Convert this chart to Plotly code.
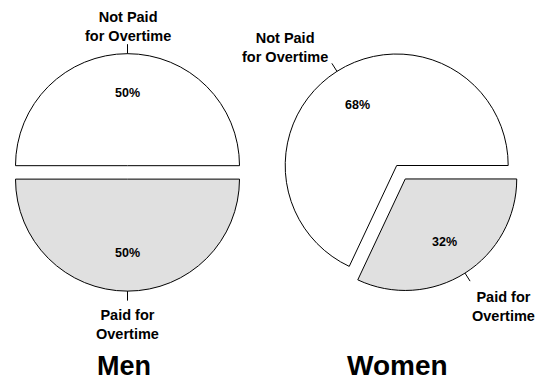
import math
import plotly.graph_objects as go

# ---- data ----
groups = ["Men", "Women"]
slice_labels = ["Not Paid<br>for Overtime", "Paid for<br>Overtime"]
men_values = [50, 50]
women_values = [68, 32]
men_pull = [0.06, 0.06]
women_pull = [0.0, 0.143]

# ---- geometry (pixels) ----
W, H = 540, 381
FONT = "Liberation Sans, Arial, sans-serif"
fills = ["#ffffff", "#e0e0e0"]

pies = [
    dict(name="Men", values=men_values, pull=men_pull, cx=127.5, cy=172.4, r=112.0,
         label_pos=[(127.5, 27.0), (127.5, 324.5)], title_pos=(124.0, 365.5), title_size=27),
    dict(name="Women", values=women_values, pull=women_pull, cx=396.7, cy=165.5, r=111.5,
         label_pos=[(284.5, 47.0), (503.5, 306.0)], title_pos=(397.5, 365.0), title_size=28),
]

def px(x):
    return x / W

def py(y):
    return 1 - y / H

fig = go.Figure()
annotations = []
shapes = []

for p in pies:
    maxpull = max(p["pull"])
    half = p["r"] * (1 + maxpull)
    total = sum(p["values"])
    # first slice runs counterclockwise from 3 o'clock => clockwise from (90 - its span)
    rot = 90 - p["values"][0] / total * 360.0
    fig.add_trace(go.Pie(
        labels=["Not Paid for Overtime", "Paid for Overtime"],
        values=p["values"],
        pull=p["pull"],
        sort=False,
        direction="clockwise",
        rotation=rot,
        textinfo="none",
        hoverinfo="label+percent",
        marker=dict(colors=fills, line=dict(color="black", width=1)),
        domain=dict(x=[px(p["cx"] - half), px(p["cx"] + half)],
                    y=[py(p["cy"] + half), py(p["cy"] - half)]),
        showlegend=False,
    ))
    start = 90.0
    for i, v in enumerate(p["values"]):
        span = v / total * 360.0
        mid = math.radians(start - span / 2)
        start -= span
        dx, dy = math.sin(mid), -math.cos(mid)
        off = p["pull"][i] * p["r"]
        scx, scy = p["cx"] + dx * off, p["cy"] + dy * off
        # percentage label
        pr = 0.655 * p["r"]
        annotations.append(dict(
            x=px(scx + dx * pr), y=py(scy + dy * pr + 1), xref="paper", yref="paper",
            text=f"{round(v / total * 100)}%", showarrow=False,
            font=dict(family=FONT, size=12.5, color="black", weight="bold"),
            xanchor="center", yanchor="middle"))
        # leader tick
        x0, y0 = scx + dx * p["r"], scy + dy * p["r"]
        x1, y1 = scx + dx * (p["r"] + 9.5), scy + dy * (p["r"] + 9.5)
        shapes.append(dict(type="line", xref="paper", yref="paper",
                           x0=px(x0), y0=py(y0), x1=px(x1), y1=py(y1),
                           line=dict(color="black", width=1)))
        lx, ly = p["label_pos"][i]
        annotations.append(dict(
            x=px(lx), y=py(ly), xref="paper", yref="paper",
            text=slice_labels[i], showarrow=False, align="center",
            font=dict(family=FONT, size=14.5, color="black", weight="bold"),
            xanchor="center", yanchor="middle"))
    tx, ty = p["title_pos"]
    annotations.append(dict(
        x=px(tx), y=py(ty), xref="paper", yref="paper", text=p["name"],
        showarrow=False, font=dict(family=FONT, size=p["title_size"], color="black", weight="bold"),
        xanchor="center", yanchor="middle"))

fig.update_layout(
    width=W, height=H,
    margin=dict(l=0, r=0, t=0, b=0),
    paper_bgcolor="white", plot_bgcolor="white",
    annotations=annotations, shapes=shapes,
)

fig.write_html("out.html", config={"displayModeBar": False},
               post_script="document.body.style.margin='0px';")
